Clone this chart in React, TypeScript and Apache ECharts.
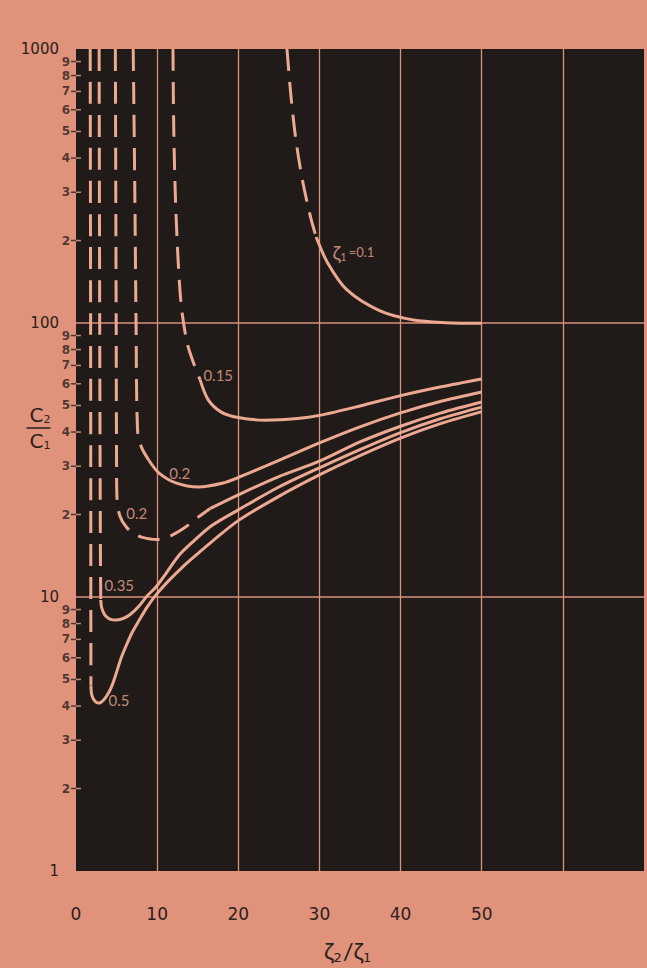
import React, { useEffect, useRef } from "react";
import * as echarts from "echarts";

// ---------- data ----------
const xTickLabels = ["0", "10", "20", "30", "40", "50"];
const yMajorLabels = ["1", "10", "100", "1000"];
const yMinorValues = [2, 3, 4, 5, 6, 7, 8, 9, 20, 30, 40, 50, 60, 70, 80, 90, 200, 300, 400, 500, 600, 700, 800, 900];
const yMinorLabels = ["2", "3", "4", "5", "6", "7", "8", "9", "2", "3", "4", "5", "6", "7", "8", "9", "2", "3", "4", "5", "6", "7", "8", "9"];

// zeta1 = 0.1
const c010Dashed = [[26.0, 1000], [26.5, 668], [27.1, 466], [27.9, 333], [28.9, 244], [29.6, 206]];
const c010Solid = [[29.6, 206], [31.0, 166], [33.4, 132], [37.4, 111], [41.6, 102.5], [45.6, 100.3], [50, 99.8]];
// zeta1 = 0.15
const c015Dashed = [[11.95, 1000], [12.05, 506], [12.25, 288], [12.6, 166], [13.0, 114], [13.7, 84.5], [14.6, 70], [15.3, 62]];
const c015Solid = [[15.3, 62], [16.3, 52.4], [17.9, 47.3], [20, 45.2], [23.3, 44.2], [27.3, 44.8], [30, 46], [35, 49.8], [40, 54.3], [45, 58.5], [50, 62.5]];
// zeta1 = 0.2 (solid branch)
const c020sDashed = [[7.05, 1000], [7.25, 300], [7.4, 100], [7.6, 40], [8.1, 35], [9.0, 31.5]];
const c020sSolid = [[9.0, 31.5], [10.2, 28.4], [12.3, 26.1], [15.1, 25.2], [18.0, 26.0], [20, 27.3], [25, 31.5], [30, 36.5], [35, 41.8], [40, 47], [45, 51.8], [50, 56]];
// zeta1 = 0.2 (dashed branch)
const c020dDashed = [[4.85, 1000], [4.95, 100], [5.0, 30], [5.05, 23], [5.4, 19.8], [6.2, 18.0], [7.2, 17.0], [8.2, 16.5], [9.9, 16.2], [11.8, 16.8], [13.5, 18.0], [15.1, 19.6], [16.5, 21.0]];
const c020dSolid = [[16.5, 21.0], [20, 23.6], [25, 27.5], [30, 31.3], [35, 36.8], [40, 42], [45, 47], [50, 51.5]];
// zeta1 = 0.35
const c035Dashed = [[2.85, 1000], [2.92, 100], [2.98, 25], [3.02, 13], [3.05, 9.75]];
const c035Solid = [[3.05, 9.75], [3.17, 9.12], [3.54, 8.6], [4.15, 8.31], [5.0, 8.24], [5.85, 8.35], [6.71, 8.65], [7.8, 9.3], [8.78, 10.1], [9.88, 10.9], [11.1, 12.2], [12.7, 14.2], [14.5, 16.0], [16.7, 18.2], [20, 20.8], [25, 25.2], [30, 29.6], [35, 34.5], [40, 39.8], [45, 44.8], [50, 49.3]];
// zeta1 = 0.5
const c050Dashed = [[1.75, 1000], [1.8, 100], [1.82, 20], [1.83, 8], [1.84, 4.75]];
const c050Solid = [[1.84, 4.75], [1.95, 4.38], [2.32, 4.17], [2.8, 4.1], [3.41, 4.21], [4.02, 4.47], [4.51, 4.81], [5.0, 5.32], [5.61, 6.04], [6.22, 6.68], [6.95, 7.45], [7.8, 8.24], [8.78, 9.2], [9.88, 10.2], [11.46, 11.5], [13.29, 13.0], [15.12, 14.5], [16.71, 15.9], [20, 19.0], [25, 23.3], [30, 27.9], [35, 32.8], [40, 38], [45, 43], [50, 47.5]];

// curve labels (text + anchor in data coords)
const curveLabelText = ["ζ1=0.1", "0.15", "0.2", "0.2", "0.35", "0.5"];
const curveLabelAnchor = [[31.6, 181], [15.7, 64.6], [11.5, 28.4], [6.2, 20.3], [3.5, 11.1], [4.0, 4.2]];

// ---------- styles ----------
const BG = "#e0937a";
const PLOT = "#201b19";
const CURVE = "#eca891";
const GRID = "#d99179";
const INK = "#2a211e";
const FONT = "Lato, 'Liberation Sans', sans-serif";
const AXFONT = "'DejaVu Sans', sans-serif";

function lineSeries(data: number[][], dashed: boolean) {
  return {
    type: "line",
    data,
    showSymbol: false,
    symbol: "none",
    smooth: 0.3,
    silent: true,
    z: 3,
    lineStyle: { color: CURVE, width: 3, type: dashed ? [22, 11] : "solid", cap: "butt" },
  };
}

export default function App() {
  const ref = useRef<HTMLDivElement>(null);
  useEffect(() => {
    document.body.style.margin = "0";
    if (!ref.current) return;
    const chart = echarts.init(ref.current, undefined, { renderer: "svg" });
    const curves = [
      [c010Dashed, c010Solid],
      [c015Dashed, c015Solid],
      [c020sDashed, c020sSolid],
      [c020dDashed, c020dSolid],
      [c035Dashed, c035Solid],
      [c050Dashed, c050Solid],
    ];
    const series: any[] = [];
    curves.forEach(([d, s]) => {
      series.push(lineSeries(d, true));
      series.push(lineSeries(s, false));
    });
    // minor ticks outside (dark) with labels
    series.push({
      type: "scatter",
      clip: false,
      silent: true,
      symbol: "rect",
      symbolSize: [5, 1.5],
      symbolOffset: [-2.5, 0],
      itemStyle: { color: INK },
      data: yMinorValues.map((v) => [0, v]),
      label: {
        show: true,
        position: "left",
        distance: 1,
        fontSize: 12,
        lineHeight: 12,
        fontFamily: AXFONT,
        fontWeight: "bold",
        color: INK,
        formatter: (p: any) => yMinorLabels[p.dataIndex],
      },
      z: 4,
    });
    // minor ticks inside (light)
    series.push({
      type: "scatter",
      clip: false,
      silent: true,
      symbol: "rect",
      symbolSize: [5, 1.5],
      symbolOffset: [2.5, 0],
      itemStyle: { color: CURVE },
      data: yMinorValues.map((v) => [0, v]),
      z: 4,
    });
    // curve labels
    series.push({
      type: "scatter",
      clip: false,
      silent: true,
      symbolSize: 0,
      data: curveLabelAnchor,
      label: {
        show: true,
        position: "right",
        distance: 0,
        fontSize: 15,
        fontFamily: FONT,
        color: CURVE,
        formatter: (p: any) => {
          const t = curveLabelText[p.dataIndex];
          if (t.startsWith("ζ")) return "{z|ζ}{s|1}{t|" + t.slice(2) + "}";
          return t;
        },
        rich: {
          z: { fontSize: 20, color: CURVE, fontFamily: FONT },
          s: { fontSize: 11, color: CURVE, fontFamily: FONT, padding: [9, 2, 0, 0] },
          t: { fontSize: 13, color: CURVE, fontFamily: FONT },
        },
      },
      z: 5,
    });

    const option: any = {
      animation: false,
      backgroundColor: BG,
      grid: {
        left: 76,
        top: 49,
        width: 574,
        height: 822,
        show: true,
        backgroundColor: PLOT,
        borderWidth: 0,
      },
      xAxis: {
        type: "value",
        min: 0,
        max: 70,
        interval: 10,
        axisLine: { show: false },
        axisTick: { show: false },
        splitLine: { show: true, showMinLine: false, showMaxLine: false, lineStyle: { color: GRID, width: 1.3 } },
        axisLabel: {
          margin: 34,
          fontSize: 17,
          fontFamily: AXFONT,
          color: INK,
          formatter: (v: number) => (xTickLabels.includes(String(v)) ? String(v) : ""),
        },
      },
      yAxis: {
        type: "log",
        logBase: 10,
        min: 1,
        max: 1000,
        axisLine: { show: false },
        axisTick: { show: false },
        splitLine: { show: true, showMinLine: false, showMaxLine: false, lineStyle: { color: GRID, width: 1.6 } },
        axisLabel: {
          margin: 17,
          fontSize: 15,
          fontFamily: AXFONT,
          color: INK,
          formatter: (v: number) => {
            const s = String(Math.round(v));
            return yMajorLabels.includes(s) ? s : "";
          },
        },
      },
      series,
      graphic: [
        {
          type: "text",
          left: 324,
          top: 938,
          style: {
            text: "{a|ζ}{b|2}{a|/ζ}{b|1}",
            fill: INK,
            rich: {
              a: { fontSize: 24, fontFamily: FONT, fill: INK, lineHeight: 28 },
              b: { fontSize: 13, fontFamily: AXFONT, fill: INK, padding: [14, 1, 0, 0] },
            },
          },
        },
        {
          type: "group",
          left: 24,
          top: 405,
          children: [
            {
              type: "text",
              x: 3,
              y: 0,
              style: {
                text: "{c|C}{d|2}",
                rich: {
                  c: { fontSize: 20, fontFamily: AXFONT, fill: INK },
                  d: { fontSize: 11, fontFamily: AXFONT, fill: INK, padding: [9, 0, 0, 0] },
                },
              },
            },
            {
              type: "line",
              shape: { x1: 0, y1: 23, x2: 24, y2: 23 },
              style: { stroke: INK, lineWidth: 1.5 },
            },
            {
              type: "text",
              x: 3,
              y: 26,
              style: {
                text: "{c|C}{d|1}",
                rich: {
                  c: { fontSize: 20, fontFamily: AXFONT, fill: INK },
                  d: { fontSize: 11, fontFamily: AXFONT, fill: INK, padding: [9, 0, 0, 0] },
                },
              },
            },
          ],
        },
      ],
    };
    chart.setOption(option);
    return () => chart.dispose();
  }, []);
  return (
    <div
      ref={ref}
      style={{ position: "absolute", left: 0, top: 0, width: 647, height: 968, background: BG }}
    />
  );
}
